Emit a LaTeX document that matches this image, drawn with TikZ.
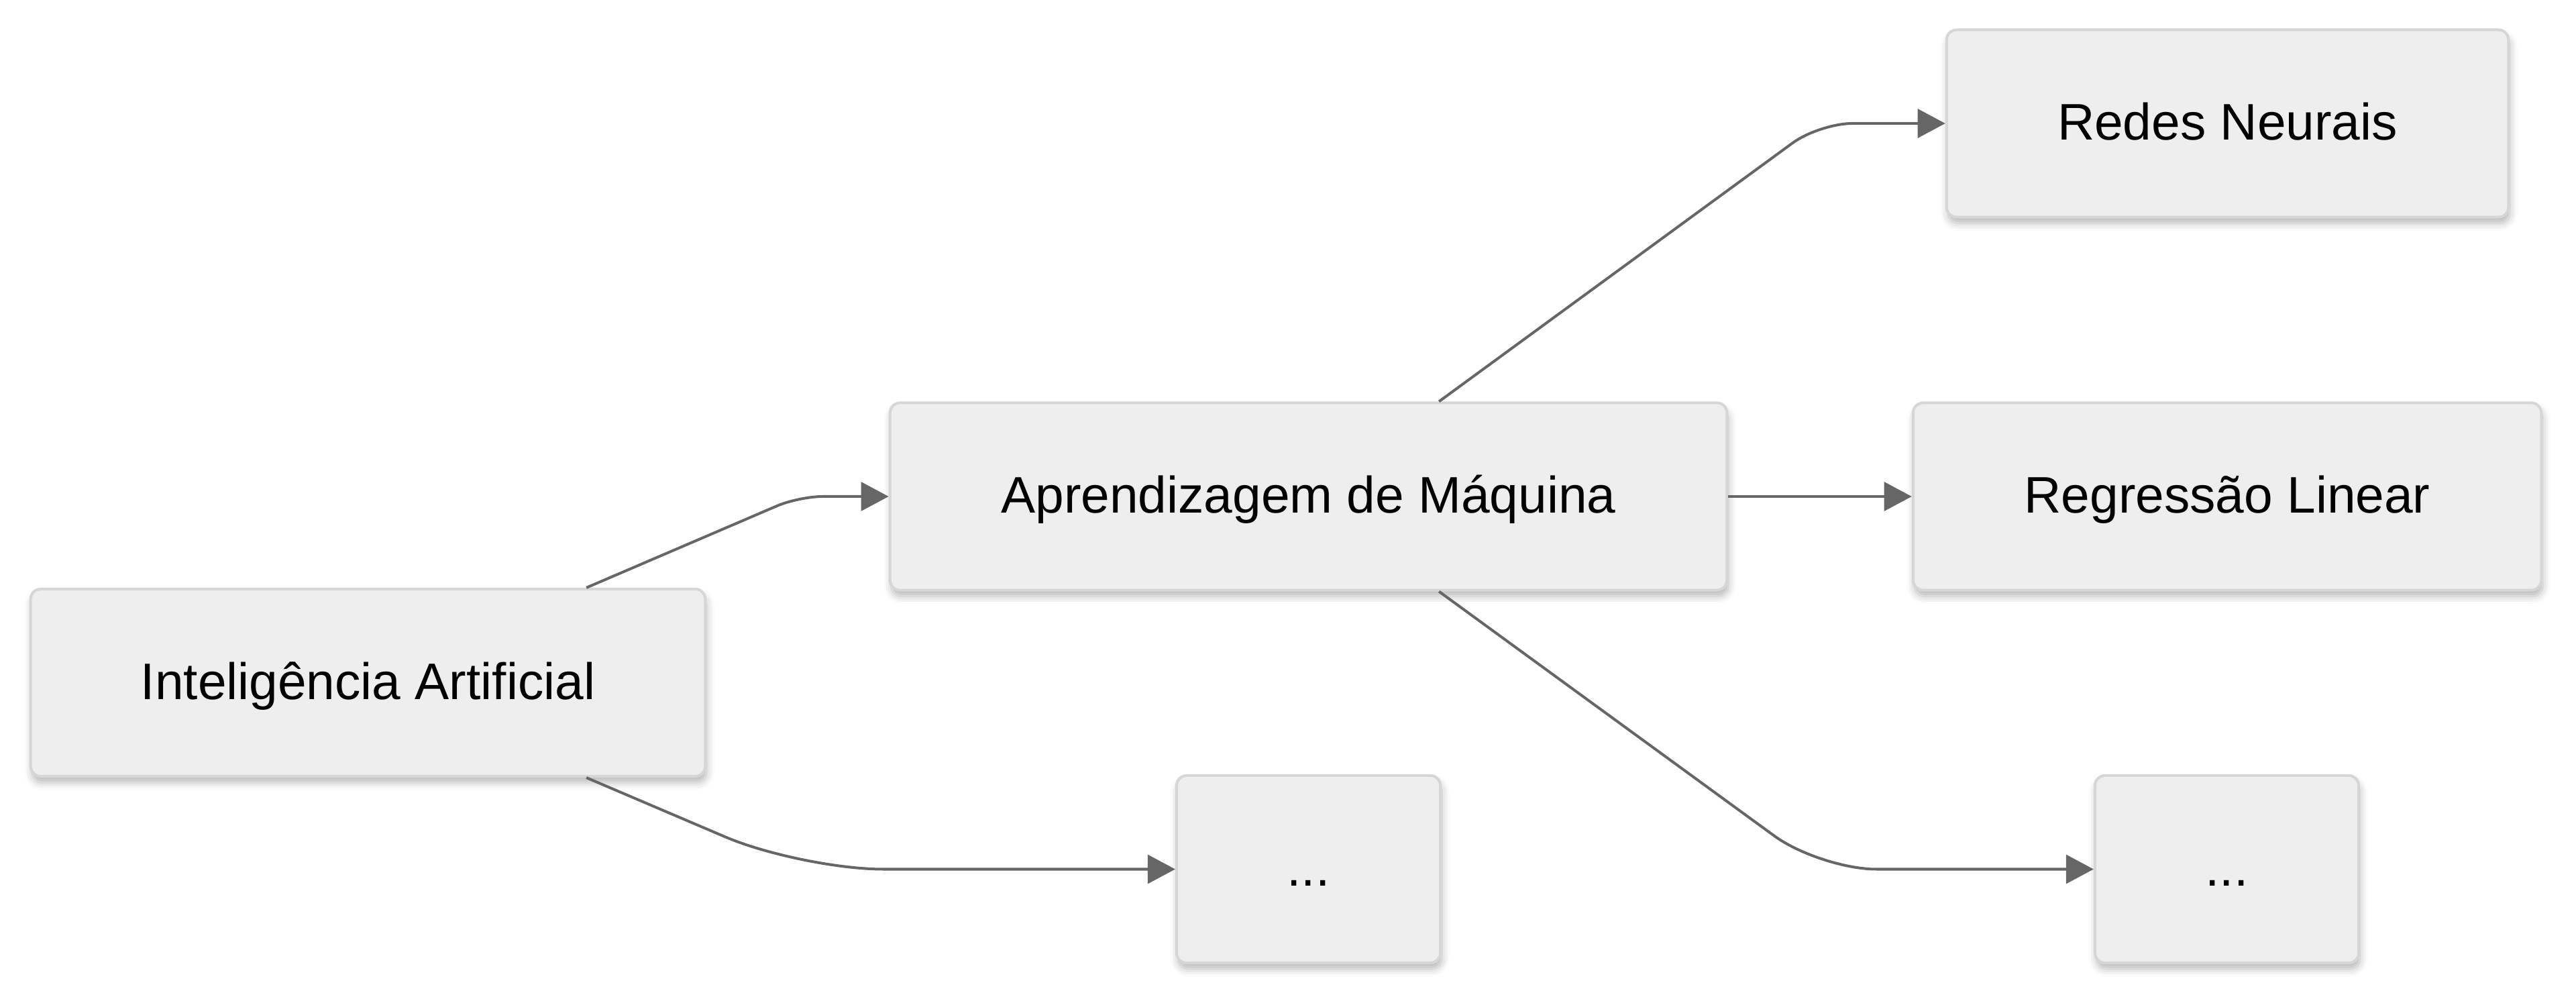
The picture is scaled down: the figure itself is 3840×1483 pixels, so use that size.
\documentclass[tikz,border=0pt]{standalone}
\usepackage{fontspec}
\setmainfont{Liberation Sans}
\usetikzlibrary{arrows.meta,shadows.blur}
\definecolor{boxfill}{HTML}{EEEEEE}
\definecolor{boxline}{HTML}{D6D6D6}
\definecolor{edgecol}{HTML}{666666}
\tikzset{
  box/.style={draw=boxline, fill=boxfill, line width=1.14pt, rounded corners=4.3pt,
    minimum height=2.79cm, inner sep=0pt, align=center,
    text height=17pt, text depth=2.8pt,
    font=\fontsize{21.8pt}{26pt}\selectfont,
    blur shadow={shadow xshift=0.6pt, shadow yshift=-2.6pt, shadow blur radius=3.2pt, shadow opacity=28}},
  edge/.style={draw=edgecol, line width=1.14pt,
    -{Triangle[length=11.7pt,width=12.2pt]}}
}
\begin{document}
\begin{tikzpicture}[x=0.01cm,y=-0.01cm]
\useasboundingbox (0,0) rectangle (3840,1483);
\node[box, minimum width=10.05cm] (IA) at (548.5,1017.5) {Inteligência Artificial};
\node[box, minimum width=12.47cm] (ML) at (1950.5,740) {Aprendizagem de Máquina};
\node[box, minimum width=8.37cm] (RN) at (3320.5,184) {Redes Neurais};
\node[box, minimum width=9.36cm] (RL) at (3320,740) {Regressão Linear};
\node[box, minimum width=3.93cm] (D1) at (1950.5,1295.5) {...};
\node[box, minimum width=3.93cm] (D2) at (3319.5,1295.5) {...};
\coordinate (c1) at (1191,740);
\coordinate (c2) at (1194,1295.5);
\coordinate (c3) at (2712,184);
\coordinate (c4) at (2713,1295.5);
\draw[edge, rounded corners=10pt] ([xshift=3.255cm]IA.north) -- (c1) -- (ML.west);
\draw[edge, rounded corners=35pt] ([xshift=3.255cm]IA.south) -- (c2) -- (D1.west);
\draw[edge, rounded corners=14pt] ([xshift=1.945cm]ML.north) -- (c3) -- (RN.west);
\draw[edge] (ML.east) -- (RL.west);
\draw[edge, rounded corners=24pt] ([xshift=1.945cm]ML.south) -- (c4) -- (D2.west);
\end{tikzpicture}
\end{document}
